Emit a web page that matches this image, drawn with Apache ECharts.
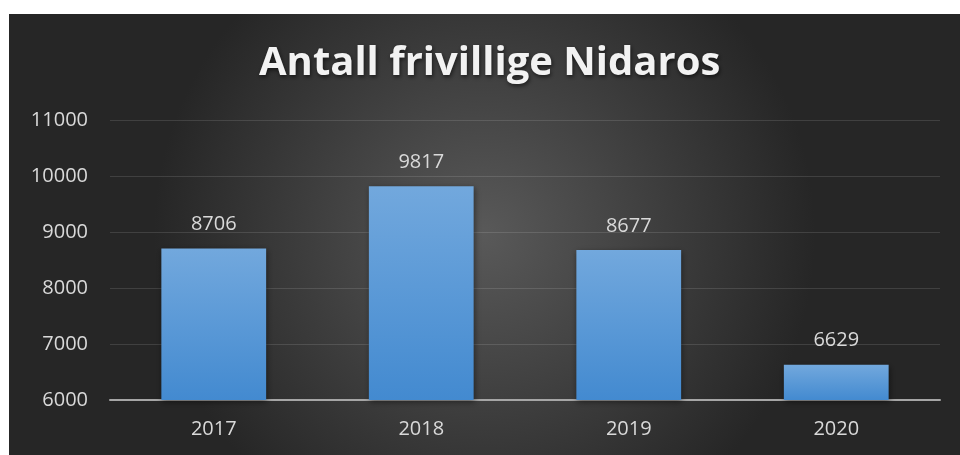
<!DOCTYPE html>
<html><head><meta charset="utf-8">
<script src="https://cdn.jsdelivr.net/npm/echarts@6/dist/echarts.min.js"></script>
<style>html,body{margin:0;padding:0;background:#fff}#c{width:960px;height:455px}</style>
</head><body><div id="c"></div>
<script>
const titleText = 'Antall frivillige Nidaros';
const categories = ['2017', '2018', '2019', '2020'];
const values = [8706, 9817, 8677, 6629];
const yTicks = [6000, 7000, 8000, 9000, 10000, 11000];

const chart = echarts.init(document.getElementById('c'), null, {renderer: 'canvas'});
chart.setOption({
  backgroundColor: '#ffffff',
  animation: false,
  graphic: [{
    type: 'rect', z: -10, silent: true,
    shape: {x: 9, y: 14, width: 951, height: 441},
    style: {fill: {type: 'radial', x: 0.5, y: 0.5, r: 0.75,
      colorStops: [{offset: 0, color: '#595959'}, {offset: 1, color: '#262626'}]}}
  }],
  title: {
    text: titleText, left: 254, top: 39,
    textStyle: {color: '#f2f2f2', fontSize: 40, fontWeight: 'bold', fontFamily: 'Open Sans',
      textShadowColor: 'rgba(0,0,0,0.6)', textShadowBlur: 4, textShadowOffsetX: 1, textShadowOffsetY: 2}
  },
  grid: {left: 110, right: 20, top: 120, bottom: 55},
  xAxis: {
    type: 'category', data: categories,
    axisLine: {lineStyle: {color: '#a6a6a6', width: 2}},
    axisTick: {show: false},
    axisLabel: {color: '#d9d9d9', fontSize: 20, fontFamily: 'Open Sans', margin: 19}
  },
  yAxis: {
    type: 'value', min: yTicks[0], max: yTicks[yTicks.length - 1], interval: 1000,
    axisLine: {show: false}, axisTick: {show: false},
    axisLabel: {color: '#d9d9d9', fontSize: 20, fontFamily: 'Open Sans', margin: 22,
      formatter: v => String(v)},
    splitLine: {lineStyle: {color: 'rgba(255,255,255,0.12)', width: 1}}
  },
  series: [{
    type: 'bar', data: values, barWidth: '50.5%',
    itemStyle: {
      color: {type: 'linear', x: 0, y: 0, x2: 0, y2: 1,
        colorStops: [{offset: 0, color: '#72a8dd'}, {offset: 1, color: '#438ad0'}]},
      shadowColor: 'rgba(0,0,0,0.45)', shadowBlur: 6, shadowOffsetX: 1, shadowOffsetY: 2
    },
    label: {show: true, position: 'top', distance: 14, color: '#d9d9d9', fontSize: 20, fontFamily: 'Open Sans'}
  }]
});
</script></body></html>
